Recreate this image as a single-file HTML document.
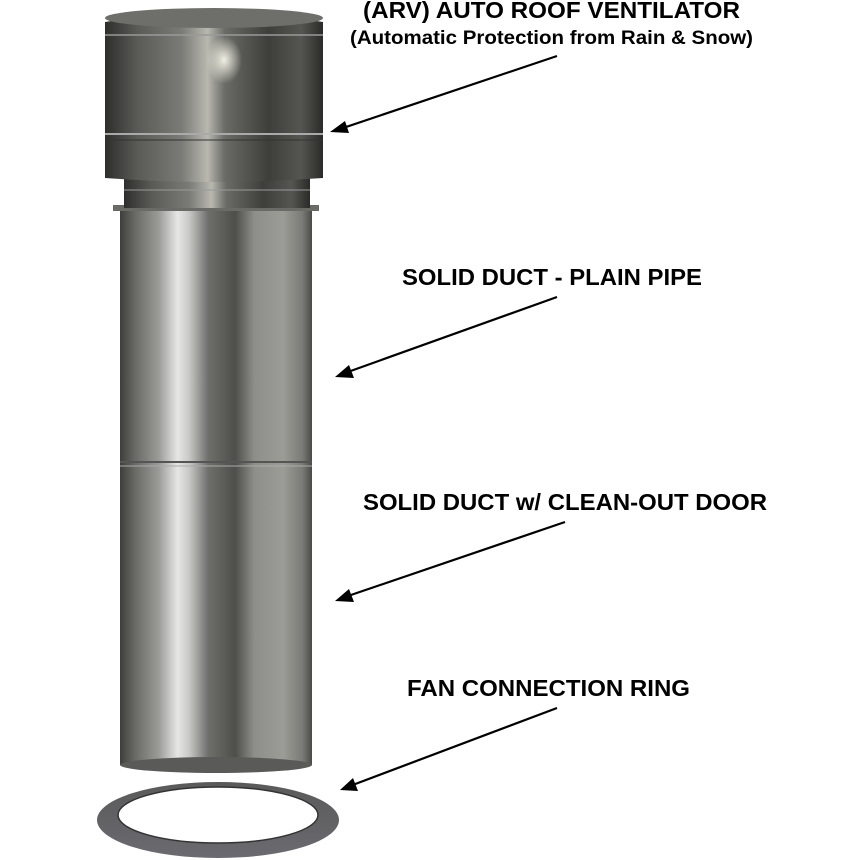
<!DOCTYPE html>
<html><head><style>
body{margin:0;background:#fff;}
svg{display:block;}
text{font-family:"Liberation Sans",Arial,sans-serif;font-weight:bold;fill:#000;}
</style></head><body>
<svg width="860" height="860" viewBox="0 0 860 860" xmlns="http://www.w3.org/2000/svg">
<defs>
<linearGradient id="duct" x1="0" x2="1" y1="0" y2="0">
<stop offset="0" stop-color="#3e3e3c"/>
<stop offset="0.08" stop-color="#6a6a67"/>
<stop offset="0.2" stop-color="#9a9a97"/>
<stop offset="0.3" stop-color="#e6e6e4"/>
<stop offset="0.36" stop-color="#c8c8c6"/>
<stop offset="0.46" stop-color="#6e6e6b"/>
<stop offset="0.6" stop-color="#4e4e4b"/>
<stop offset="0.7" stop-color="#8e8e8a"/>
<stop offset="0.85" stop-color="#9c9c97"/>
<stop offset="0.95" stop-color="#7a7a76"/>
<stop offset="1" stop-color="#4a4a47"/>
</linearGradient>
<linearGradient id="cap" x1="0" x2="1" y1="0" y2="0">
<stop offset="0" stop-color="#2e2e2c"/>
<stop offset="0.15" stop-color="#5a5a57"/>
<stop offset="0.35" stop-color="#7a7a76"/>
<stop offset="0.47" stop-color="#b8b8b0"/>
<stop offset="0.55" stop-color="#6a6a66"/>
<stop offset="0.75" stop-color="#3e3e3b"/>
<stop offset="0.9" stop-color="#555552"/>
<stop offset="1" stop-color="#2a2a28"/>
</linearGradient>
<linearGradient id="ring" x1="0" x2="0" y1="0" y2="1">
<stop offset="0" stop-color="#5a5a5a"/>
<stop offset="1" stop-color="#6a6a70"/>
</linearGradient>
<radialGradient id="hl"><stop offset="0" stop-color="#f0f0e4"/><stop offset="1" stop-color="#f0f0e4" stop-opacity="0"/></radialGradient>
</defs>
<rect x="120" y="205" width="192" height="560" fill="url(#duct)"/>
<ellipse cx="216" cy="765" rx="96" ry="8" fill="#5a5a58"/>
<rect x="113" y="205" width="206" height="6" fill="#6a6a67"/>
<line x1="120" y1="462" x2="312" y2="462" stroke="#555" stroke-width="2"/>
<line x1="120" y1="466" x2="312" y2="466" stroke="#aaa" stroke-width="1"/>
<rect x="124" y="178" width="186" height="30" fill="url(#cap)"/>
<line x1="124" y1="190" x2="310" y2="190" stroke="#999" stroke-width="1"/>
<path d="M105 22 Q214 4 323 22 L323 178 Q214 186 105 178 Z" fill="url(#cap)"/>
<ellipse cx="214" cy="18" rx="109" ry="10" fill="#6e6e6a"/>
<line x1="105" y1="35" x2="323" y2="35" stroke="#999" stroke-width="1.5"/>
<line x1="105" y1="134" x2="323" y2="134" stroke="#aaa" stroke-width="2"/>
<line x1="105" y1="140" x2="323" y2="140" stroke="#333" stroke-width="1"/>
<ellipse cx="224" cy="60" rx="18" ry="24" fill="url(#hl)"/>
<path fill-rule="evenodd" fill="url(#ring)" d="M97 820 A121 38 0 1 0 339 820 A121 38 0 1 0 97 820 Z M118 815 A100 28 0 1 1 318 815 A100 28 0 1 1 118 815 Z"/>
<ellipse cx="218" cy="815" rx="100" ry="28" fill="#fff" stroke="#333" stroke-width="1.5"/>
<text x="363" y="18" font-size="23" textLength="377" lengthAdjust="spacingAndGlyphs">(ARV) AUTO ROOF VENTILATOR</text>
<text x="350" y="44" font-size="19" textLength="403" lengthAdjust="spacingAndGlyphs">(Automatic Protection from Rain &amp; Snow)</text>
<text x="402" y="285" font-size="23" textLength="300" lengthAdjust="spacingAndGlyphs">SOLID DUCT - PLAIN PIPE</text>
<text x="363" y="510" font-size="23" textLength="404" lengthAdjust="spacingAndGlyphs">SOLID DUCT w/ CLEAN-OUT DOOR</text>
<text x="407" y="696" font-size="23" textLength="283" lengthAdjust="spacingAndGlyphs">FAN CONNECTION RING</text>
<g stroke="#000" stroke-width="2.2">
<line x1="557" y1="56" x2="340" y2="129"/>
<line x1="557" y1="297" x2="345" y2="373"/>
<line x1="565" y1="522" x2="345" y2="597"/>
<line x1="557" y1="708" x2="350" y2="786"/>
</g>
<g fill="#000">
<polygon points="330,132 345,121 349,133"/>
<polygon points="335,377 349,365 354,378"/>
<polygon points="335,601 349,589 354,602"/>
<polygon points="340,790 353,778 358,791"/>
</g>
</svg>
</body></html>
